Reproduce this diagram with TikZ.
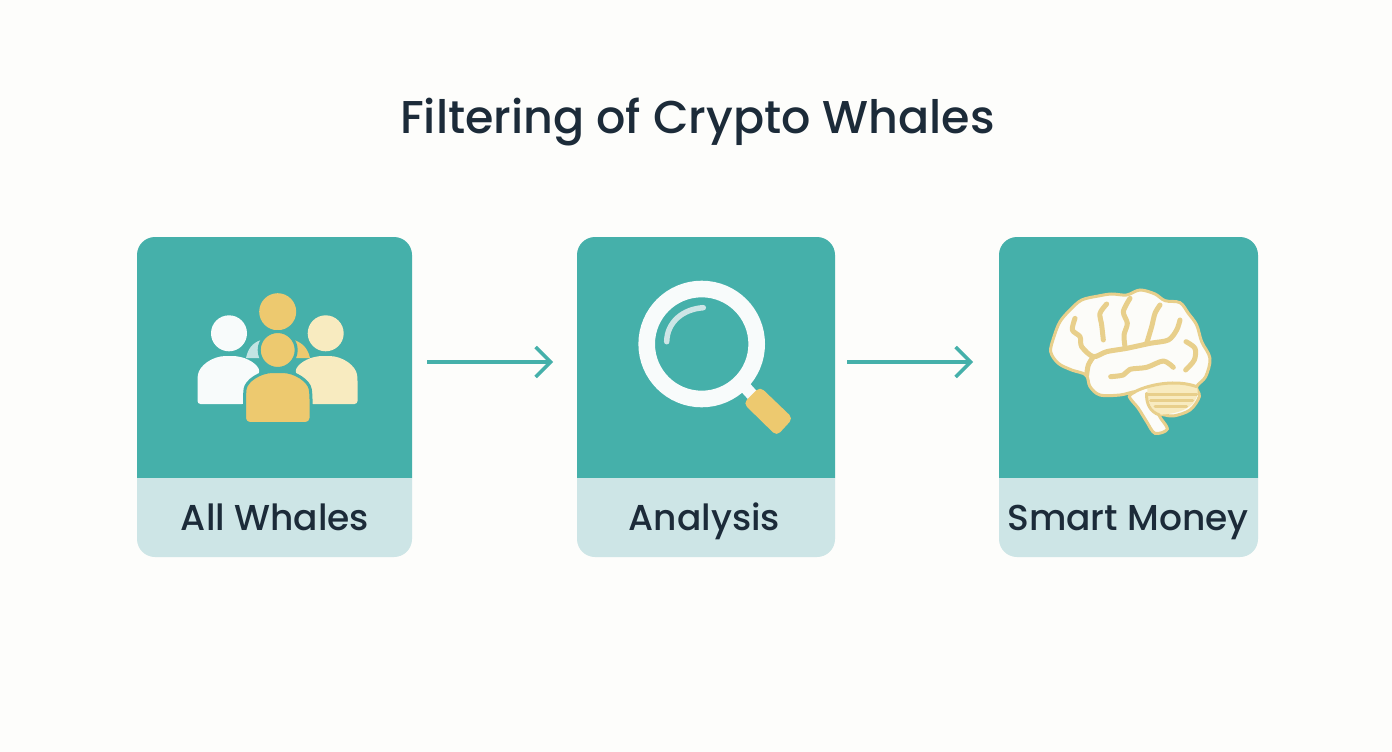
\documentclass[tikz,border=0pt]{standalone}
\usepackage{fontspec}
\setmainfont{Noto Sans}
\newfontfamily\labelfont{Poppins Medium}
\usetikzlibrary{arrows.meta}
\definecolor{col_page}{HTML}{FDFDFB}
\definecolor{col_teal}{HTML}{45B0AA}
\definecolor{col_band}{HTML}{CDE5E6}
\definecolor{col_ink}{HTML}{1C2B39}
\definecolor{col_gold}{HTML}{EDC96F}
\definecolor{col_cream}{HTML}{F8EBC0}
\definecolor{col_white}{HTML}{F8FBFB}
\definecolor{col_brain}{HTML}{FCFCF9}
\definecolor{col_line}{HTML}{E8CF8B}

\begin{document}
\begin{tikzpicture}[x=1pt, y=-1pt]
    \tikzstyle{card_top} = [draw=none, minimum height=250pt, outer sep=0pt, inner sep=0pt]
    \tikzstyle{teal} = [fill=col_teal]
    \tikzstyle{band} = [fill=col_band]
    \tikzstyle{card_text} = [anchor=base, text=col_ink, font=\labelfont\fontsize{36}{36}\selectfont]
    \tikzstyle{arrow_teal} = [-{Straight Barb[length=15pt, width=30pt]}, col_teal, line width=3.5pt]
    \tikzstyle{head} = [draw=col_teal, line width=3pt]
    \tikzstyle{sulcus} = [draw=col_line, line width=5pt, line cap=round, line join=round]
    \tikzstyle{fold} = [draw=col_line, line width=3pt, line cap=round]

    \fill[col_page] (0,0) rectangle (1392,752);
    \useasboundingbox (0,0) rectangle (1392,752);

    \node[draw=none, anchor=base, text=col_ink, font=\labelfont\fontsize{46}{46}\selectfont] (title) at (697.5,133) {Filtering of Crypto Whales};

    % cards, the top node is centred on the arrow height
    \fill[teal] (137,478) [rounded corners=18pt] -- (137,237) -- (412,237) [sharp corners] -- (412,478) -- cycle;
    \fill[teal] (577,478) [rounded corners=18pt] -- (577,237) -- (835,237) [sharp corners] -- (835,478) -- cycle;
    \fill[teal] (999,478) [rounded corners=18pt] -- (999,237) -- (1258,237) [sharp corners] -- (1258,478) -- cycle;
    \node[card_top, minimum width=275pt] (topA) at (274.5,362) {};
    \node[card_top, minimum width=258pt] (topB) at (706,362) {};
    \node[card_top, minimum width=259pt] (topC) at (1128.5,362) {};

    \fill[band] (137,478) -- (412,478) [rounded corners=18pt] -- (412,557) -- (137,557) [sharp corners] -- cycle;
    \fill[band] (577,478) -- (835,478) [rounded corners=18pt] -- (835,557) -- (577,557) [sharp corners] -- cycle;
    \fill[band] (999,478) -- (1258,478) [rounded corners=18pt] -- (1258,557) -- (999,557) [sharp corners] -- cycle;

    \node[card_text] (labelA) at (275,530) {All Whales};
    \node[card_text] (labelB) at (704.5,530) {Analysis};
    \node[card_text] (labelC) at (1128,530) {Smart Money};

    \draw[arrow_teal, shorten <=15pt, shorten >=24pt] (topA) -- (topB);
    \draw[arrow_teal, shorten <=12pt, shorten >=26pt] (topB) -- (topC);

    % people
    \fill[col_gold] (277.7,311.7) circle (18.5);
    \fill[col_white!70!col_teal] (246,358) .. controls (248,349) and (252,343) .. (261,340) -- (263,358) -- cycle;
    \fill[col_gold] (310,358) .. controls (308,349) and (303,343) .. (294,340) -- (293,358) -- cycle;
    \fill[col_white] (229,333.3) circle (18);
    \fill[col_cream] (325.7,333.3) circle (18);
    \fill[col_white, rounded corners=3pt] (197.5,404) -- (197.5,378) .. controls (199,366) and (212,356) .. (229,356) .. controls (244,356) and (255,362) .. (260,371) -- (245,404) -- cycle;
    \fill[col_cream, rounded corners=3pt] (357.5,404) -- (357.5,378) .. controls (356,366) and (343,356) .. (326,356) .. controls (311,356) and (300,362) .. (295,371) -- (310,404) -- cycle;
    \draw[head, fill=col_gold] (277.7,350) circle (18.5);
    \draw[head, fill=col_gold, rounded corners=5pt] (244.5,423.5) -- (244.5,394) .. controls (246,381) and (260,371.5) .. (277.7,371.5) .. controls (295,371.5) and (309,381) .. (311,394) -- (311,423.5) -- cycle;

    % magnifier
    \draw[col_white, line width=12pt] (745,387) -- (755,398);
    \fill[col_gold, rounded corners=5pt] (743.3,403.3) -- (760,386.7) -- (793,418.3) -- (776.7,436) -- cycle;
    \draw[col_white, line width=16.6pt] (701.7,344) circle (55);
    \draw[col_band, line width=5.5pt, line cap=round] (666.7,341.7) .. controls (667,322) and (683,309) .. (703.3,307.7);

    % brain
    \begin{scope}[xshift=1040pt, yshift=-280pt, x=0.3333pt, y=-0.3333pt]
        \draw[fill=col_brain, draw=col_line, line width=3pt] plot[smooth cycle, tension=0.55] coordinates {(32,215) (42,170) (60,125) (90,90) (125,60) (175,48) (215,42) (260,45) (300,30) (345,42) (375,62) (420,68) (445,100) (470,135) (485,185) (510,235) (497,290) (470,320) (478,350) (450,390) (400,408) (358,405) (382,447) (345,460) (320,425) (295,385) (268,350) (285,335) (240,345) (180,345) (150,320) (138,285) (95,270) (55,250)};
        \fill[col_cream] (322,322) .. controls (380,300) and (440,305) .. (472,322) .. controls (480,360) and (450,400) .. (362,404) .. controls (330,390) and (320,360) .. (322,322) -- cycle;
        \draw[fold] (320,345) -- (470,345);
        \draw[fold] (332,363) -- (458,363);
        \draw[fold] (345,381) -- (440,381);
        \draw[fold] (285,335) .. controls (330,312) and (410,298) .. (470,320);
        \draw[fold] (320,340) .. controls (318,370) and (330,395) .. (358,405);
        \draw[sulcus] plot[smooth, tension=0.5] coordinates {(105,115) (97,150) (120,170) (125,200) (160,230) (200,215) (260,205) (330,190) (385,180) (410,150) (420,120)};
        \draw[sulcus] plot[smooth, tension=0.5] coordinates {(200,72) (180,100) (185,135) (190,180)};
        \draw[sulcus] plot[smooth, tension=0.5] coordinates {(270,55) (250,95) (262,130) (252,165) (255,200)};
        \draw[sulcus] plot[smooth, tension=0.5] coordinates {(360,75) (345,100) (335,140) (320,190)};
        \draw[sulcus] plot[smooth, tension=0.5] coordinates {(160,230) (145,255) (140,285)};
        \draw[sulcus] plot[smooth, tension=0.5] coordinates {(212,290) (250,285) (270,268) (320,262) (370,243) (400,262)};
        \draw[sulcus] plot[smooth, tension=0.5] coordinates {(438,185) (465,205) (463,240) (437,270)};
    \end{scope}
\end{tikzpicture}
\end{document}
